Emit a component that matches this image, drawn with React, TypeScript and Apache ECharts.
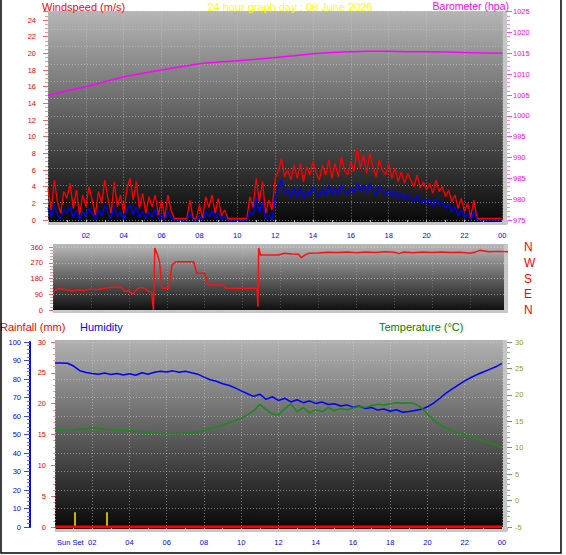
import React, { useEffect, useRef } from 'react';
import * as echarts from 'echarts';

// ---------- data ----------
// wind speed, 10-minute steps from 00:00 to 24:00 (m/s)
const windGust = [
  3.8, 1.2, 4.8, 2.2, 0.8, 3.4,
  2.6, 4.4, 1.4, 3.6, 0.6, 3.0,
  1.6, 4.0, 2.4, 0.6, 3.4, 2.0,
  4.8, 2.6, 0.8, 4.6, 1.6, 3.0,
  0.8, 3.8, 5.0, 2.4, 4.6, 1.4,
  3.2, 0.8, 2.8, 1.6, 3.0, 0.6,
  2.4, 0.3, 3.0, 1.2, 0.2, 0.2,
  0.2, 0.2, 0.2, 2.4, 0.2, 0.2,
  1.8, 0.2, 2.8, 1.5, 3.0, 0.8,
  2.6, 0.5, 1.2, 0.2, 0.2, 0.2,
  0.2, 0.2, 0.2, 0.2, 2.8, 1.5,
  5.0, 2.2, 4.6, 0.8, 2.4, 1.2,
  5.0, 5.8, 7.4, 5.2, 6.0, 4.8,
  6.6, 5.0, 6.8, 4.6, 6.4, 5.4,
  7.0, 5.6, 4.8, 6.6, 5.4, 7.2,
  5.0, 6.8, 5.2, 7.6, 6.0, 5.4,
  7.0, 5.8, 8.6, 6.2, 7.8, 5.6,
  8.0, 6.4, 5.2, 7.2, 6.0, 5.4,
  6.8, 5.0, 6.2, 4.6, 5.8, 4.4,
  5.6, 4.8, 4.0, 5.4, 3.8, 4.6,
  3.6, 4.4, 3.2, 4.8, 3.4, 4.0,
  2.8, 3.6, 2.2, 3.0, 1.4, 2.6,
  1.0, 2.0, 0.4, 2.4, 0.2, 0.2,
  0.2, 0.2, 0.2, 0.2, 0.2, 0.2,
  0.2,
];
const windAvg = [
  1.4, 0.3, 1.8, 0.6, 0.2, 1.2,
  0.8, 1.6, 0.3, 1.2, 0.1, 1.0,
  0.4, 1.4, 0.7, 0.1, 1.2, 0.5,
  1.8, 0.8, 0.2, 1.6, 0.4, 0.9,
  0.1, 1.2, 1.8, 0.6, 1.6, 0.3,
  1.0, 0.2, 0.9, 0.4, 1.3, 0.1,
  0.7, 0.0, 1.0, 0.3, 0.0, 0.0,
  0.0, 0.0, 0.0, 0.8, 0.0, 0.0,
  0.5, 0.0, 1.0, 0.4, 1.1, 0.2,
  0.9, 0.1, 0.4, 0.0, 0.0, 0.0,
  0.0, 0.0, 0.0, 0.0, 1.0, 0.6,
  2.8, 0.9, 2.2, 0.0, 0.6, 0.0,
  2.6, 3.8, 4.8, 3.2, 3.6, 2.8,
  3.8, 2.8, 3.9, 2.6, 3.5, 3.0,
  4.0, 3.2, 2.8, 3.8, 3.0, 4.2,
  3.0, 3.8, 3.0, 4.2, 3.4, 3.1,
  3.9, 3.3, 4.4, 3.5, 4.2, 3.2,
  4.3, 3.6, 3.0, 4.0, 3.4, 3.0,
  3.7, 2.8, 3.5, 2.6, 3.2, 2.4,
  3.1, 2.6, 2.2, 3.0, 2.0, 2.5,
  1.9, 2.4, 1.6, 2.6, 1.8, 2.2,
  1.4, 2.0, 1.0, 1.6, 0.5, 1.2,
  0.3, 0.8, 0.0, 1.0, 0.0, 0.0,
  0.0, 0.0, 0.0, 0.0, 0.0, 0.0,
  0.0,
];
const windStepHours = 1 / 6;

// barometer, hourly (hPa)
const barometer = [
  1004.9, 1006.0, 1007.0, 1008.2, 1009.4, 1010.2, 1011.0, 1011.8, 1012.5, 1012.9,
  1013.2, 1013.6, 1014.0, 1014.4, 1014.9, 1015.2, 1015.4, 1015.5, 1015.5, 1015.4,
  1015.4, 1015.3, 1015.2, 1015.1, 1015.0,
];

// wind direction (degrees) at irregular times (hours)
const dirTimes = [
  0, 0.3, 0.6, 1.0, 1.3, 1.6, 2.0, 2.3, 2.7, 3.0, 3.3, 3.6, 3.8, 4.0, 4.2, 4.5, 4.8, 5.0, 5.2,
  5.3, 5.37, 5.5, 5.62, 5.75, 6.1, 6.28, 6.47, 7.0, 7.42, 7.58, 8.0, 8.2, 8.95, 9.14, 10.0,
  10.76, 10.81, 10.85, 10.95, 11.5, 11.9, 12.2, 12.6, 12.95, 13.1, 13.3, 13.5, 14, 14.5, 15,
  15.5, 16, 16.5, 17, 17.5, 18, 18.25, 18.5, 19, 19.5, 20, 20.5, 21, 21.5, 22, 22.3, 22.5, 23,
  23.5, 24,
];
const dirDegrees = [
  105, 122, 118, 109, 115, 112, 120, 116, 124, 128, 130, 132, 106, 110, 92, 127, 127, 109, 102,
  0, 354, 320, 276, 124, 124, 257, 276, 276, 276, 210, 210, 143, 143, 124, 124,
  124, 19, 354, 314, 314, 314, 324, 320, 318, 299, 315, 324, 326, 330, 328,
  332, 327, 331, 329, 333, 330, 322, 331, 327, 332, 329, 331, 328, 330, 324, 332, 341, 333,
  335, 333,
];

// humidity (%) and temperature (°C), 20-minute steps
const humidity = [
  88.6, 88.6, 88.5, 87.0, 84.5, 83.5, 83.0, 82.6, 83.2, 82.4, 83.0, 82.2,
  82.8, 82.0, 83.4, 82.6, 83.6, 84.2, 83.8, 84.4, 83.6, 84.2, 83.4, 82.6,
  81.0, 79.6, 78.8, 77.4, 76.6, 75.2, 73.6, 72.0, 70.6, 71.8, 69.0, 70.4,
  68.4, 69.6, 67.6, 68.8, 67.2, 68.2, 66.8, 67.6, 66.2, 66.6, 65.4, 66.0,
  64.8, 65.4, 64.0, 64.6, 63.2, 63.8, 62.6, 63.4, 62.0, 62.4, 63.0, 63.6,
  65.0, 67.0, 69.6, 72.4, 74.6, 76.8, 79.0, 80.8, 82.4, 83.8, 85.2, 86.6,
  88.4,
];
const temperature = [
  13.3, 13.3, 13.4, 13.4, 13.5, 13.6, 13.8, 13.7, 13.5, 13.4, 13.3, 13.2,
  13.2, 13.1, 13.0, 12.9, 12.8, 12.7, 12.6, 12.7, 12.6, 12.8, 12.9, 13.0,
  13.3, 13.6, 13.9, 14.3, 14.7, 15.1, 15.6, 16.2, 17.0, 18.2, 17.2, 16.4,
  16.2, 17.4, 18.3, 16.8, 17.6, 16.6, 17.2, 16.8, 17.6, 17.0, 17.4, 17.2,
  17.5, 17.8, 17.6, 18.0, 18.2, 18.1, 18.3, 18.5, 18.4, 18.5, 18.3, 17.6,
  16.4, 15.2, 14.4, 13.7, 13.2, 12.8, 12.4, 12.1, 11.8, 11.3, 10.9, 10.5,
  10.0,
];
const climateStepHours = 1 / 3;

// rainfall (mm), hourly
const rainfall = [0, 0, 0, 0, 0, 0, 0, 0, 0, 0, 0, 0, 0, 0, 0, 0, 0, 0, 0, 0, 0, 0, 0, 0, 0];

// yellow sun markers (hours) and their height on the rainfall scale
const sunMarkTimes = [1.07, 2.79];
const sunMarkHeight = 2.4;

const compassLabels: Record<number, string> = { 0: 'N', 90: 'E', 180: 'S', 270: 'W', 360: 'N' };

// ---------- helpers ----------
const FONT = 'Liberation Sans, Arial, sans-serif';

const hourFmt = (v: number) => {
  if (Math.abs(v - Math.round(v)) > 1e-6) return '';
  const h = Math.round(v);
  if (h <= 0 || h % 2 !== 0 || h > 24) return '';
  return String(h % 24).padStart(2, '0');
};

const plain = (v: number) => String(v);

const dotted = { color: 'rgba(205,205,205,0.55)', type: [1, 2] as any, width: 1 };

const plotBg = (x: number, y: number, w: number, h: number, top: string, bottom: string) => [
  { type: 'rect', z: -20, shape: { x, y, width: w, height: h }, style: { fill: '#c6c6c6' } },
  {
    type: 'rect',
    z: -19,
    shape: { x, y, width: w - 4, height: h - 3 },
    style: {
      fill: new echarts.graphic.LinearGradient(0, 0, 0, 1, [
        { offset: 0, color: top },
        { offset: 1, color: bottom },
      ]),
    },
  },
];

const txt = (text: string, x: number, y: number, fill: string, align = 'left', size = 11) => ({
  type: 'text',
  z: 10,
  x,
  y,
  style: { text, fill, font: `${size}px ${FONT}`, textAlign: align, textVerticalAlign: 'middle' },
});

export default function App() {
  const ref = useRef<HTMLDivElement>(null);

  useEffect(() => {
    if (!ref.current) return;
    const chart = echarts.init(ref.current, undefined, { renderer: 'svg' });

    const xLabel = { color: '#0000ff', fontSize: 7.5, fontFamily: FONT, formatter: hourFmt, margin: 11 };

    const option: any = {
      animation: false,
      backgroundColor: '#ffffff',
      grid: [
        { left: 48, top: 11.67, width: 459, height: 208.33 },
        { left: 53, top: 247, width: 455, height: 63 },
        { left: 55, top: 342, width: 452, height: 185 },
      ],
      xAxis: [
        {
          type: 'value', gridIndex: 0, min: 0, max: 24.25, interval: 2,
          axisLine: { show: false },
          axisTick: { show: true, length: 4, lineStyle: { color: '#c0c0c0' } },
          minorTick: { show: true, splitNumber: 2, length: 2, lineStyle: { color: '#c0c0c0' } },
          axisLabel: xLabel,
          splitLine: { show: true, lineStyle: dotted },
        },
        {
          type: 'value', gridIndex: 1, min: 0, max: 24, interval: 2,
          axisLine: { show: false }, axisTick: { show: false }, axisLabel: { show: false },
          splitLine: { show: true, lineStyle: { ...dotted, color: 'rgba(205,205,205,0.3)' } },
        },
        {
          type: 'value', gridIndex: 2, min: 0, max: 24.27, interval: 2,
          axisLine: { show: false },
          axisTick: { show: true, length: 4, lineStyle: { color: '#c0c0c0' } },
          minorTick: { show: true, splitNumber: 2, length: 2, lineStyle: { color: '#c0c0c0' } },
          axisLabel: xLabel,
          splitLine: { show: true, lineStyle: dotted },
        },
      ],
      yAxis: [
        {
          type: 'value', gridIndex: 0, position: 'left', offset: 3, min: 0, max: 25, interval: 2,
          axisLine: { show: false },
          axisTick: { show: true, length: 5, lineStyle: { color: '#ff6060' } },
          minorTick: { show: true, splitNumber: 4, length: 3, lineStyle: { color: '#ff9090' } },
          axisLabel: { color: '#ff0000', fontSize: 7.5, fontFamily: FONT, margin: 9,
            formatter: (v: number) => (v % 2 === 0 ? String(v) : '') },
          splitLine: { show: false },
        },
        {
          type: 'value', gridIndex: 0, position: 'right', min: 975, max: 1025, interval: 5,
          axisLine: { show: false },
          axisTick: { show: true, length: 5, lineStyle: { color: '#ff40ff' } },
          minorTick: { show: true, splitNumber: 5, length: 3, lineStyle: { color: '#ff80ff' } },
          axisLabel: { color: '#ff00ff', fontSize: 7.5, fontFamily: FONT, margin: 6, formatter: plain },
          splitLine: { show: false },
        },
        {
          type: 'value', gridIndex: 0, position: 'left', min: 0, max: 12, interval: 1,
          axisLine: { show: false }, axisTick: { show: false }, axisLabel: { show: false },
          splitLine: { show: true, lineStyle: dotted },
        },
        {
          type: 'value', gridIndex: 1, position: 'left', offset: 3, min: 0, max: 360, interval: 90,
          axisLine: { show: false },
          axisTick: { show: true, length: 4, lineStyle: { color: '#ff6060' } },
          minorTick: { show: true, splitNumber: 5, length: 3, lineStyle: { color: '#ff9090' } },
          axisLabel: { color: '#ff0000', fontSize: 7.5, fontFamily: FONT, margin: 7, formatter: plain },
          splitLine: { show: true, lineStyle: { ...dotted, color: 'rgba(215,215,215,0.6)' } },
        },
        {
          type: 'value', gridIndex: 1, position: 'right', min: 0, max: 360, interval: 90,
          axisLine: { show: false }, axisTick: { show: false },
          axisLabel: { color: '#ff0000', fontSize: 12, fontFamily: FONT, margin: 16,
            formatter: (v: number) => compassLabels[v] ?? '' },
          splitLine: { show: false },
        },
        {
          type: 'value', gridIndex: 2, position: 'left', offset: 2, min: 0, max: 30, interval: 5,
          axisLine: { show: false },
          axisTick: { show: true, length: 4, lineStyle: { color: '#ff6060' } },
          minorTick: { show: true, splitNumber: 5, length: 2, lineStyle: { color: '#ff9090' } },
          axisLabel: { color: '#ff0000', fontSize: 7.5, fontFamily: FONT, margin: 7 },
          splitLine: { show: false },
        },
        {
          type: 'value', gridIndex: 2, position: 'left', offset: 25, min: 0, max: 100, interval: 10,
          axisLine: { show: true, lineStyle: { color: '#0000ff', width: 2 } },
          axisTick: { show: true, length: 6, lineStyle: { color: '#4040ff' } },
          minorTick: { show: true, splitNumber: 5, length: 3, lineStyle: { color: '#6060ff' } },
          axisLabel: { color: '#0000ff', fontSize: 7.5, fontFamily: FONT, margin: 9 },
          splitLine: { show: true, lineStyle: dotted },
        },
        {
          type: 'value', gridIndex: 2, position: 'right', min: -5, max: 30, interval: 5,
          axisLine: { show: false },
          axisTick: { show: true, length: 5, lineStyle: { color: '#60a060' } },
          minorTick: { show: true, splitNumber: 5, length: 3, lineStyle: { color: '#80b880' } },
          axisLabel: { color: '#8fa000', fontSize: 7.5, fontFamily: FONT, margin: 8 },
          splitLine: { show: false },
        },
      ],
      series: [
        {
          type: 'line', xAxisIndex: 0, yAxisIndex: 1, showSymbol: false, z: 3,
          data: barometer.map((v, i) => [i, v]),
          lineStyle: { color: '#ff00ff', width: 1.5 },
        },
        {
          type: 'line', xAxisIndex: 0, yAxisIndex: 0, showSymbol: false, z: 4,
          data: windGust.map((v, i) => [i * windStepHours, v]),
          lineStyle: { color: '#ff0000', width: 1.3 },
        },
        {
          type: 'line', xAxisIndex: 0, yAxisIndex: 0, showSymbol: false, z: 5,
          data: windAvg.map((v, i) => [i * windStepHours, v]),
          lineStyle: { color: '#0000ff', width: 1.3 },
        },
        {
          type: 'line', xAxisIndex: 1, yAxisIndex: 3, showSymbol: false, z: 4,
          data: dirTimes.map((t, i) => [t, dirDegrees[i]]),
          lineStyle: { color: '#ff1010', width: 1.5 },
        },
        {
          type: 'line', xAxisIndex: 2, yAxisIndex: 6, showSymbol: false, z: 4,
          data: humidity.map((v, i) => [i * climateStepHours, v]),
          lineStyle: { color: '#0000ff', width: 1.5 },
        },
        {
          type: 'line', xAxisIndex: 2, yAxisIndex: 7, showSymbol: false, z: 4,
          data: temperature.map((v, i) => [i * climateStepHours, v]),
          lineStyle: { color: '#1a8a1a', width: 1.5 },
        },
        {
          type: 'line', xAxisIndex: 2, yAxisIndex: 5, showSymbol: false, z: 5,
          data: rainfall.map((v, i) => [i, v]),
          lineStyle: { color: '#ff0000', width: 3 },
          markLine: {
            silent: true, symbol: ['none', 'none'], label: { show: false },
            lineStyle: { color: '#c8b400', width: 2, type: 'solid' },
            data: sunMarkTimes.map((t) => [{ coord: [t, 0] }, { coord: [t, sunMarkHeight] }]),
          },
        },
      ],
      graphic: [
        ...plotBg(48, 11, 459, 214, '#b6b6b6', '#080808'),
        ...plotBg(53, 244, 455, 69, '#bababa', '#101010'),
        ...plotBg(55, 340, 452, 192, '#b2b2b2', '#080808'),
        txt('Windspeed (m/s)', 42, 6.5, '#ff0000'),
        txt('24 hour graph day : 06 June 2026', 290, 6.5, '#ffff00', 'center'),
        txt('Barometer (hpa)', 509, 5.5, '#ff00ff', 'right', 10.5),
        txt('Rainfall (mm)', 0, 327, '#ff0000'),
        txt('Humidity', 80, 327, '#0000ff'),
        txt('Temperature (°C)', 379, 327, '#008000'),
        txt('Sun Set', 57, 542, '#0000ff', 'left', 7.5),
        {
          type: 'polyline', z: 10,
          shape: { points: [[1, 0], [1, 553], [561, 553], [561, 0]] },
          style: { stroke: '#000000', lineWidth: 1.5, fill: 'none' },
        },
      ],
    };

    chart.setOption(option);
    return () => chart.dispose();
  }, []);

  return (
    <div
      ref={ref}
      style={{ position: 'fixed', left: 0, top: 0, width: 566, height: 555, background: '#fff' }}
    />
  );
}
